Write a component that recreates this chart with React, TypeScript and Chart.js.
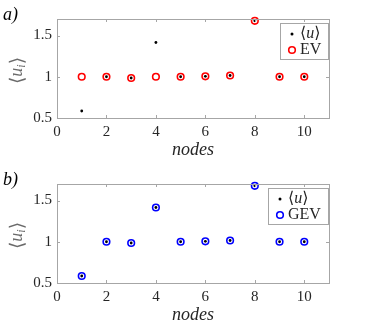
import React, { useEffect, useRef } from "react";
import { Chart, registerables } from "chart.js";

Chart.register(...registerables);

const nodes = [1, 2, 3, 4, 5, 6, 7, 8, 9, 10];
const meanU = [0.585, 1.0, 0.985, 1.415, 1.0, 1.005, 1.015, 1.678, 1.0, 1.0];
const evValues = [1.0, 1.0, 0.985, 1.0, 1.0, 1.005, 1.015, 1.678, 1.0, 1.0];
const gevValues = [0.585, 1.0, 0.985, 1.415, 1.0, 1.005, 1.015, 1.678, 1.0, 1.0];
const xTicks = [0, 2, 4, 6, 8, 10];
const yTicks = [0.5, 1, 1.5];

const SERIF = "'Liberation Serif', 'DejaVu Serif', serif";
const AXIS_COLOR = "#a6a6a6";
const TEXT_COLOR = "#262626";

function decorPlugin(panel: string, fitName: string, fitColor: string) {
  return {
    id: "decor" + panel,
    afterDraw(chart: any) {
      const ctx = chart.ctx as CanvasRenderingContext2D;
      const a = chart.chartArea;
      const xs = chart.scales.x;
      const ys = chart.scales.y;
      ctx.save();
      // axes box
      ctx.strokeStyle = AXIS_COLOR;
      ctx.lineWidth = 1;
      ctx.strokeRect(Math.round(a.left) + 0.5, Math.round(a.top) + 0.5, Math.round(a.right - a.left), Math.round(a.bottom - a.top));
      // inward ticks
      const tl = 3;
      ctx.beginPath();
      xTicks.forEach((v) => {
        const px = Math.round(xs.getPixelForValue(v)) + 0.5;
        ctx.moveTo(px, a.bottom);
        ctx.lineTo(px, a.bottom - tl);
        ctx.moveTo(px, a.top);
        ctx.lineTo(px, a.top + tl);
      });
      yTicks.forEach((v) => {
        const py = Math.round(ys.getPixelForValue(v)) + 0.5;
        ctx.moveTo(a.left, py);
        ctx.lineTo(a.left + tl, py);
        ctx.moveTo(a.right, py);
        ctx.lineTo(a.right - tl, py);
      });
      ctx.stroke();

      // x title
      ctx.fillStyle = TEXT_COLOR;
      ctx.font = "italic 18px " + SERIF;
      ctx.textAlign = "center";
      ctx.textBaseline = "alphabetic";
      ctx.fillText("nodes", (a.left + a.right) / 2, a.bottom + 37);

      // y title rotated
      ctx.save();
      ctx.translate(22, (a.top + a.bottom) / 2 + 2);
      ctx.rotate(-Math.PI / 2);
      ctx.fillStyle = "#6a6a6a";
      ctx.textBaseline = "alphabetic";
      ctx.textAlign = "left";
      const p1 = "⟨";
      const p2 = "u";
      const p3 = "i";
      const p4 = "⟩";
      ctx.font = "19px " + SERIF;
      const w1 = ctx.measureText(p1).width;
      ctx.font = "italic 18px " + SERIF;
      const w2 = ctx.measureText(p2).width;
      ctx.font = "italic 12px " + SERIF;
      const w3 = ctx.measureText(p3).width;
      ctx.font = "19px " + SERIF;
      const w4 = ctx.measureText(p4).width;
      const total = w1 + w2 + w3 + w4;
      let x0 = -total / 2;
      ctx.font = "19px " + SERIF;
      ctx.fillText(p1, x0, 1);
      x0 += w1;
      ctx.font = "italic 18px " + SERIF;
      ctx.fillText(p2, x0, 0);
      x0 += w2;
      ctx.font = "italic 12px " + SERIF;
      ctx.fillText(p3, x0, 3);
      x0 += w3;
      ctx.font = "19px " + SERIF;
      ctx.fillText(p4, x0, 1);
      ctx.restore();

      // panel label
      ctx.fillStyle = "#000";
      ctx.font = "italic 18px " + SERIF;
      ctx.textAlign = "left";
      ctx.fillText(panel, 3, 20);

      // legend
      ctx.font = "16px " + SERIF;
      const fitW = ctx.measureText(fitName).width;
      const uW = ctx.measureText("⟨u⟩").width;
      const lw = Math.round(20 + Math.max(fitW, uW) + 7);
      const lx = Math.round(a.right) - 1 - lw;
      const ly = Math.round(a.top) + 4;
      const lh = 36;
      ctx.fillStyle = "#fff";
      ctx.fillRect(lx, ly, lw, lh);
      ctx.strokeStyle = AXIS_COLOR;
      ctx.lineWidth = 1;
      ctx.strokeRect(lx + 0.5, ly + 0.5, lw, lh);
      // entry 1
      ctx.fillStyle = "#000";
      ctx.beginPath();
      ctx.arc(lx + 12, ly + 11, 1.5, 0, Math.PI * 2);
      ctx.fill();
      ctx.fillStyle = TEXT_COLOR;
      ctx.font = "16px " + SERIF;
      ctx.textBaseline = "middle";
      let tx = lx + 20;
      ctx.fillText("⟨", tx, ly + 11);
      tx += ctx.measureText("⟨").width;
      ctx.font = "italic 16px " + SERIF;
      ctx.fillText("u", tx, ly + 11);
      tx += ctx.measureText("u").width;
      ctx.font = "16px " + SERIF;
      ctx.fillText("⟩", tx, ly + 11);
      // entry 2
      ctx.strokeStyle = fitColor;
      ctx.lineWidth = 1.6;
      ctx.beginPath();
      ctx.arc(lx + 12, ly + 27, 3.3, 0, Math.PI * 2);
      ctx.stroke();
      ctx.fillStyle = TEXT_COLOR;
      ctx.font = "16px " + SERIF;
      ctx.fillText(fitName, lx + 20, ly + 27);
      ctx.restore();
    },
  };
}

function makeConfig(panel: string, fitName: string, fitValues: number[], fitColor: string): any {
  return {
    type: "scatter",
    data: {
      datasets: [
        {
          label: fitName,
          data: nodes.map((n, i) => ({ x: n, y: fitValues[i] })),
          pointStyle: "circle",
          pointRadius: 3.3,
          pointBorderWidth: 1.6,
          pointBorderColor: fitColor,
          pointBackgroundColor: "rgba(0,0,0,0)",
          showLine: false,
          clip: false,
          order: 2,
        },
        {
          label: "⟨u⟩",
          data: nodes.map((n, i) => ({ x: n, y: meanU[i] })),
          pointStyle: "circle",
          pointRadius: 1.4,
          pointBorderWidth: 0,
          pointBackgroundColor: "#000",
          pointBorderColor: "#000",
          showLine: false,
          clip: false,
          order: 1,
        },
      ],
    },
    options: {
      responsive: false,
      animation: false,
      layout: { padding: { top: 19, right: 43, left: 0, bottom: 0 } },
      plugins: { legend: { display: false }, tooltip: { enabled: false }, title: { display: false } },
      scales: {
        x: {
          type: "linear",
          min: 0,
          max: 11,
          grid: { display: false, drawTicks: false, tickLength: 0 },
          border: { display: false },
          afterFit: (s: any) => {
            s.height = 47;
          },
          afterBuildTicks: (s: any) => {
            s.ticks = xTicks.map((v) => ({ value: v }));
          },
          ticks: {
            font: { family: SERIF, size: 15 },
            color: TEXT_COLOR,
            padding: 5,
            maxRotation: 0,
            autoSkip: false,
            callback: (v: number) => String(v),
          },
        },
        y: {
          type: "linear",
          min: 0.5,
          max: 1.7,
          grid: { display: false, drawTicks: false, tickLength: 0 },
          border: { display: false },
          afterFit: (s: any) => {
            s.width = 57;
          },
          afterBuildTicks: (s: any) => {
            s.ticks = yTicks.map((v) => ({ value: v }));
          },
          ticks: {
            font: { family: SERIF, size: 15 },
            color: TEXT_COLOR,
            padding: 5,
            autoSkip: false,
            callback: (v: number) => String(v),
          },
        },
      },
    },
    plugins: [decorPlugin(panel, fitName, fitColor)],
  };
}

function Panel(props: { panel: string; fitName: string; fitValues: number[]; fitColor: string }) {
  const ref = useRef<HTMLCanvasElement | null>(null);
  useEffect(() => {
    if (!ref.current) return;
    const chart = new Chart(ref.current, makeConfig(props.panel, props.fitName, props.fitValues, props.fitColor));
    return () => chart.destroy();
  }, []);
  return <canvas ref={ref} width={372} height={165} style={{ display: "block", width: 372, height: 165 }} />;
}

export default function App() {
  useEffect(() => {
    document.body.style.margin = "0";
    document.body.style.background = "#fff";
  }, []);
  return (
    <div style={{ width: 372, height: 330, background: "#fff" }}>
      <Panel panel="a)" fitName="EV" fitValues={evValues} fitColor="#ff0000" />
      <Panel panel="b)" fitName="GEV" fitValues={gevValues} fitColor="#0000ff" />
    </div>
  );
}
